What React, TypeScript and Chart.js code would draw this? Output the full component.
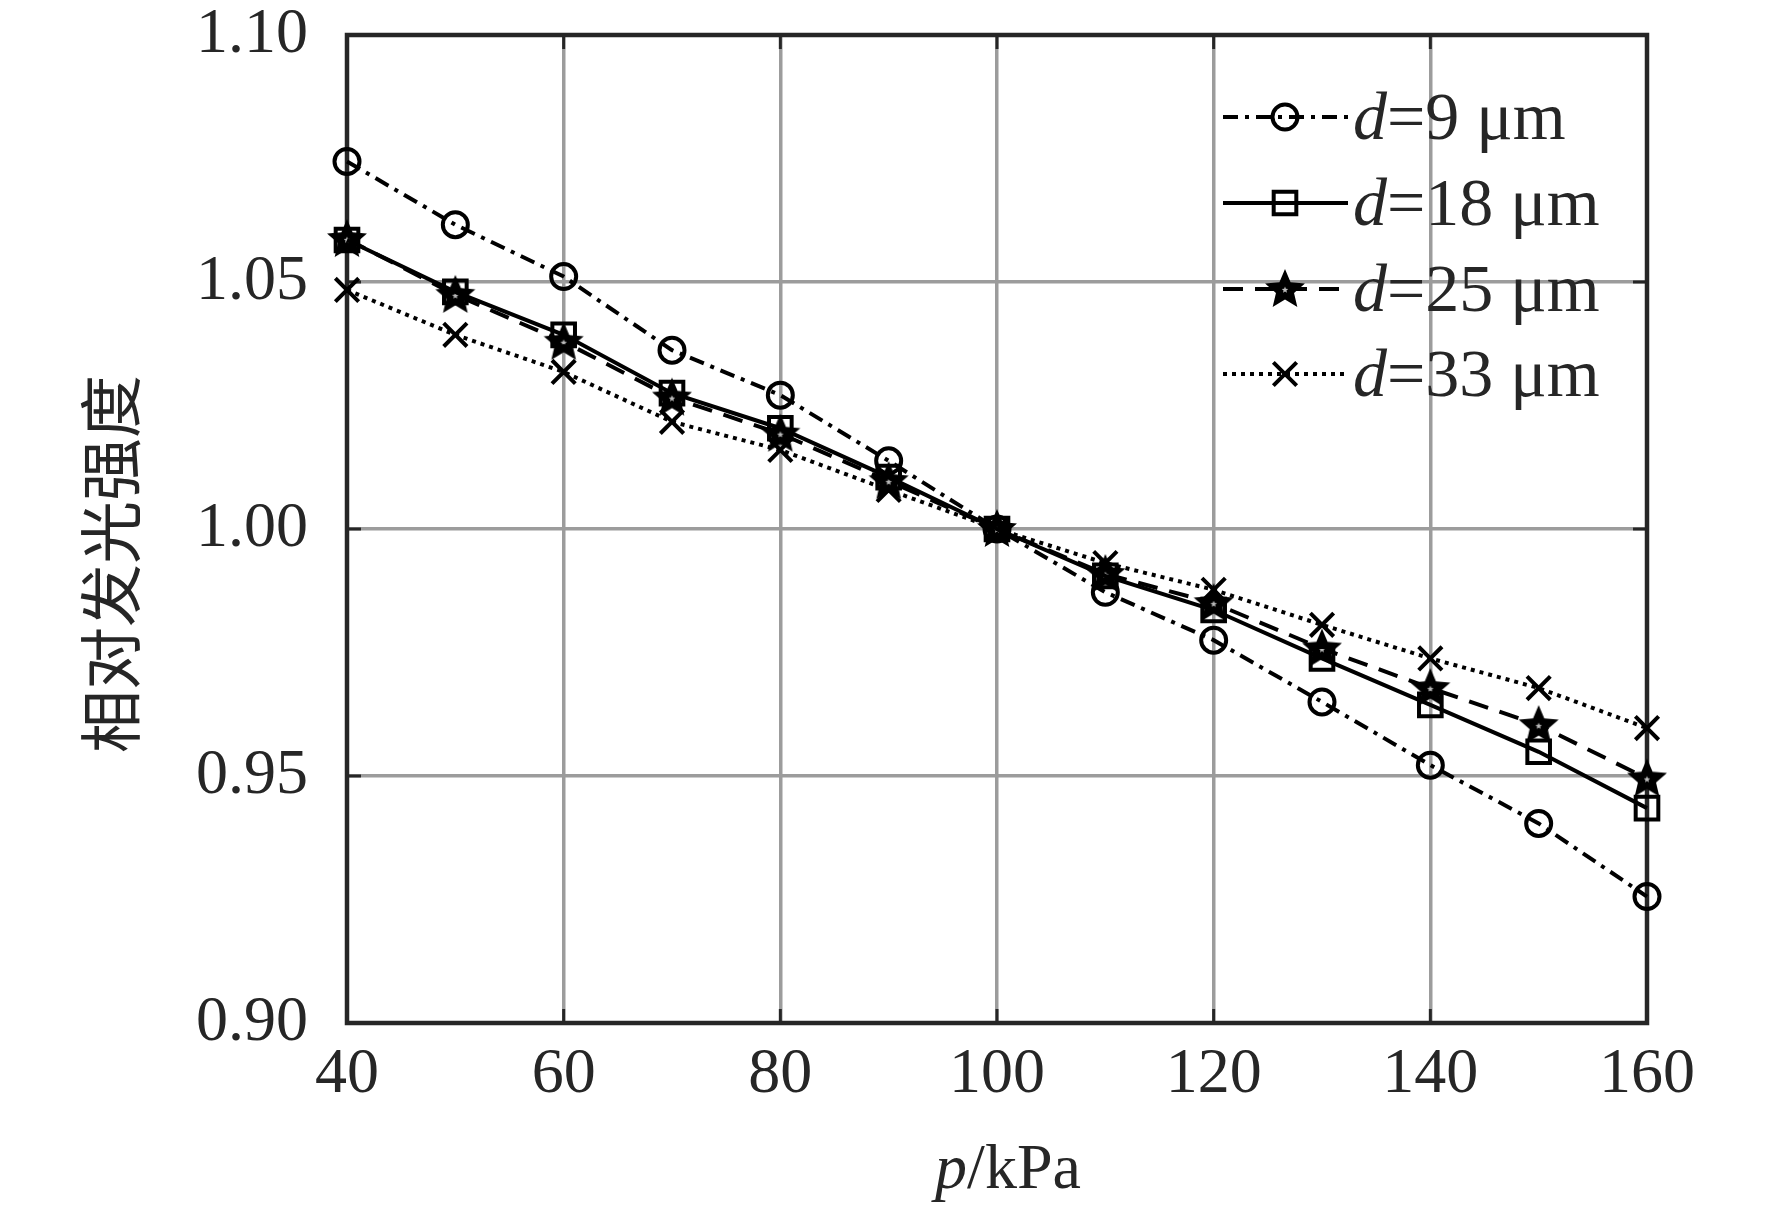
import { useEffect, useRef } from "react"
import { Chart, registerables } from "chart.js"
import { drawPoint } from "chart.js/helpers"

Chart.register(...registerables)

// pressure p (kPa)
const pressure = [40, 50, 60, 70, 80, 90, 100, 110, 120, 130, 140, 150, 160]

// relative luminescence intensity for each particle size d
const d9 = [1.0744, 1.0616, 1.0511, 1.0362, 1.0271, 1.0138, 1.0, 0.9872, 0.9775, 0.965, 0.9522, 0.9404, 0.9256]
const d18 = [1.0585, 1.048, 1.0393, 1.0275, 1.0204, 1.0105, 1.0, 0.9905, 0.9836, 0.9738, 0.9644, 0.9549, 0.9435]
const d25 = [1.0587, 1.0474, 1.0379, 1.0266, 1.0193, 1.0097, 1.0, 0.9909, 0.985, 0.9758, 0.9678, 0.9603, 0.9495]
const d33 = [1.0484, 1.0393, 1.0318, 1.0217, 1.016, 1.0079, 1.0, 0.9931, 0.9877, 0.9806, 0.9738, 0.9678, 0.9597]

const sizeLabels = ["9", "18", "25", "33"]

// tick labels
const xTicks = [40, 60, 80, 100, 120, 140, 160]
const yTicks = [0.9, 0.95, 1.0, 1.05, 1.1]

const TEXT = "#262626"
const SERIF = '"Liberation Serif", "DejaVu Serif", serif'
const LW = 4

// filled pentagram marker, like the MATLAB one
function makeStar() {
  const c = document.createElement("canvas")
  c.width = 46
  c.height = 46
  const g = c.getContext("2d")!
  const star = (R: number, r: number) => {
    g.beginPath()
    for (let i = 0; i < 10; i++) {
      const rad = i % 2 === 0 ? R : r
      const a = -Math.PI / 2 + (i * Math.PI) / 5
      const px = 23 + rad * Math.cos(a)
      const py = 24 + rad * Math.sin(a)
      if (i === 0) g.moveTo(px, py)
      else g.lineTo(px, py)
    }
    g.closePath()
  }
  star(21, 9.5)
  g.fillStyle = "#000"
  g.fill()
  star(3.4, 1.5)
  g.fillStyle = "#bbb"
  g.fill()
  return c
}

type Part = { t: string; italic?: boolean }

function drawParts(ctx: CanvasRenderingContext2D, parts: Part[], x: number, y: number, size: number, center: boolean) {
  const fontOf = (p: Part) => `${p.italic ? "italic " : ""}${size}px ${SERIF}`
  let total = 0
  for (const p of parts) {
    ctx.font = fontOf(p)
    total += ctx.measureText(p.t).width
  }
  let cx = center ? x - total / 2 : x
  ctx.textAlign = "left"
  ctx.textBaseline = "alphabetic"
  for (const p of parts) {
    ctx.font = fontOf(p)
    ctx.fillText(p.t, cx, y)
    cx += ctx.measureText(p.t).width
  }
}

export default function App() {
  const chartRef = useRef<HTMLCanvasElement>(null)
  const chartInstance = useRef<Chart | null>(null)

  useEffect(() => {
    if (!chartRef.current) return
    if (chartInstance.current) chartInstance.current.destroy()

    const star = makeStar()
    const series = [
      { data: d9, dash: [15, 7, 4, 7], style: "circle" as any, radius: 12.5 },
      { data: d18, dash: [], style: "rect" as any, radius: 16 },
      { data: d25, dash: [20, 12], style: star as any, radius: 21 },
      { data: d33, dash: [4, 5], style: "crossRot" as any, radius: 16.5 },
    ]

    const framePlugin = {
      id: "frame",
      beforeDatasetsDraw(chart: Chart) {
        const { ctx, chartArea: a, scales } = chart
        ctx.save()
        ctx.strokeStyle = TEXT
        ctx.lineWidth = 3
        ctx.beginPath()
        for (const v of xTicks) {
          const x = scales.x.getPixelForValue(v)
          ctx.moveTo(x, a.bottom)
          ctx.lineTo(x, a.bottom - 14)
          ctx.moveTo(x, a.top)
          ctx.lineTo(x, a.top + 14)
        }
        for (const v of yTicks) {
          const y = scales.y.getPixelForValue(v)
          ctx.moveTo(a.left, y)
          ctx.lineTo(a.left + 14, y)
          ctx.moveTo(a.right, y)
          ctx.lineTo(a.right - 14, y)
        }
        ctx.stroke()
        ctx.lineWidth = 4.5
        ctx.strokeRect(a.left, a.top, a.right - a.left, a.bottom - a.top)
        ctx.restore()
      },
      afterDraw(chart: Chart) {
        const { ctx } = chart
        ctx.save()
        ctx.fillStyle = TEXT

        // x axis title
        drawParts(ctx, [{ t: "p", italic: true }, { t: "/kPa" }], 1008, 1188, 64, true)

        // y axis title
        ctx.save()
        ctx.translate(110, 564)
        ctx.rotate(-Math.PI / 2)
        ctx.font = '63px "Noto Sans CJK SC", sans-serif'
        ctx.textAlign = "center"
        ctx.textBaseline = "middle"
        ctx.fillText("相对发光强度", 0, 0)
        ctx.restore()

        // legend
        const rows = [117, 203, 289, 374]
        series.forEach((s, i) => {
          const y = rows[i]
          ctx.save()
          ctx.strokeStyle = "#000"
          ctx.lineWidth = LW
          ctx.setLineDash(s.dash)
          ctx.beginPath()
          ctx.moveTo(1223, y)
          ctx.lineTo(1348, y)
          ctx.stroke()
          ctx.setLineDash([])
          ctx.fillStyle = "rgba(0,0,0,0)"
          drawPoint(ctx, { pointStyle: s.style, radius: s.radius, rotation: 0, borderWidth: LW } as any, 1285, y)
          ctx.restore()
          ctx.fillStyle = TEXT
          drawParts(ctx, [{ t: "d", italic: true }, { t: `=${sizeLabels[i]} μm` }], 1353, y + 22, 68, false)
        })
        ctx.restore()
      },
    }

    const ctx = chartRef.current.getContext("2d")
    if (ctx) {
      chartInstance.current = new Chart(ctx, {
        type: "line",
        data: {
          datasets: series.map((s, i) => ({
            label: `d=${sizeLabels[i]} μm`,
            data: pressure.map((p, j) => ({ x: p, y: s.data[j] })),
            borderColor: "#000",
            borderWidth: LW,
            borderDash: s.dash,
            pointStyle: s.style,
            pointRadius: s.radius,
            pointBorderWidth: LW,
            pointBorderColor: "#000",
            pointBackgroundColor: "rgba(0,0,0,0)",
            tension: 0,
            clip: false as any,
          })),
        },
        options: {
          responsive: false,
          animation: false,
          events: [],
          layout: { padding: { top: 35, right: 125, left: 0, bottom: 0 } },
          plugins: {
            legend: { display: false },
            tooltip: { enabled: false },
          },
          scales: {
            x: {
              type: "linear",
              min: 40,
              max: 160,
              afterBuildTicks: (s: any) => {
                s.ticks = xTicks.map((v) => ({ value: v }))
              },
              afterFit: (s: any) => {
                s.height = 185
              },
              border: { display: false },
              grid: { color: "#9c9c9c", lineWidth: 3.5, drawTicks: false },
              ticks: {
                color: TEXT,
                padding: 20,
                maxRotation: 0,
                font: { family: SERIF, size: 64, lineHeight: 1 },
                callback: (v: any) => String(v),
              },
            },
            y: {
              type: "linear",
              min: 0.9,
              max: 1.1,
              afterBuildTicks: (s: any) => {
                s.ticks = yTicks.map((v) => ({ value: v }))
              },
              afterFit: (s: any) => {
                s.width = 347
                s.paddingTop = 0
                s.paddingBottom = 0
              },
              border: { display: false },
              grid: { color: "#9c9c9c", lineWidth: 3.5, drawTicks: false },
              ticks: {
                color: TEXT,
                padding: 39,
                font: { family: SERIF, size: 64, lineHeight: 1 },
                callback: (v: any) => Number(v).toFixed(2),
              },
            },
          },
        },
        plugins: [framePlugin],
      })
    }

    return () => {
      if (chartInstance.current) {
        chartInstance.current.destroy()
        chartInstance.current = null
      }
    }
  }, [])

  return (
    <div style={{ position: "absolute", left: 0, top: 0, width: 1772, height: 1208, background: "#fff" }}>
      <canvas ref={chartRef} width={1772} height={1208} />
    </div>
  )
}
